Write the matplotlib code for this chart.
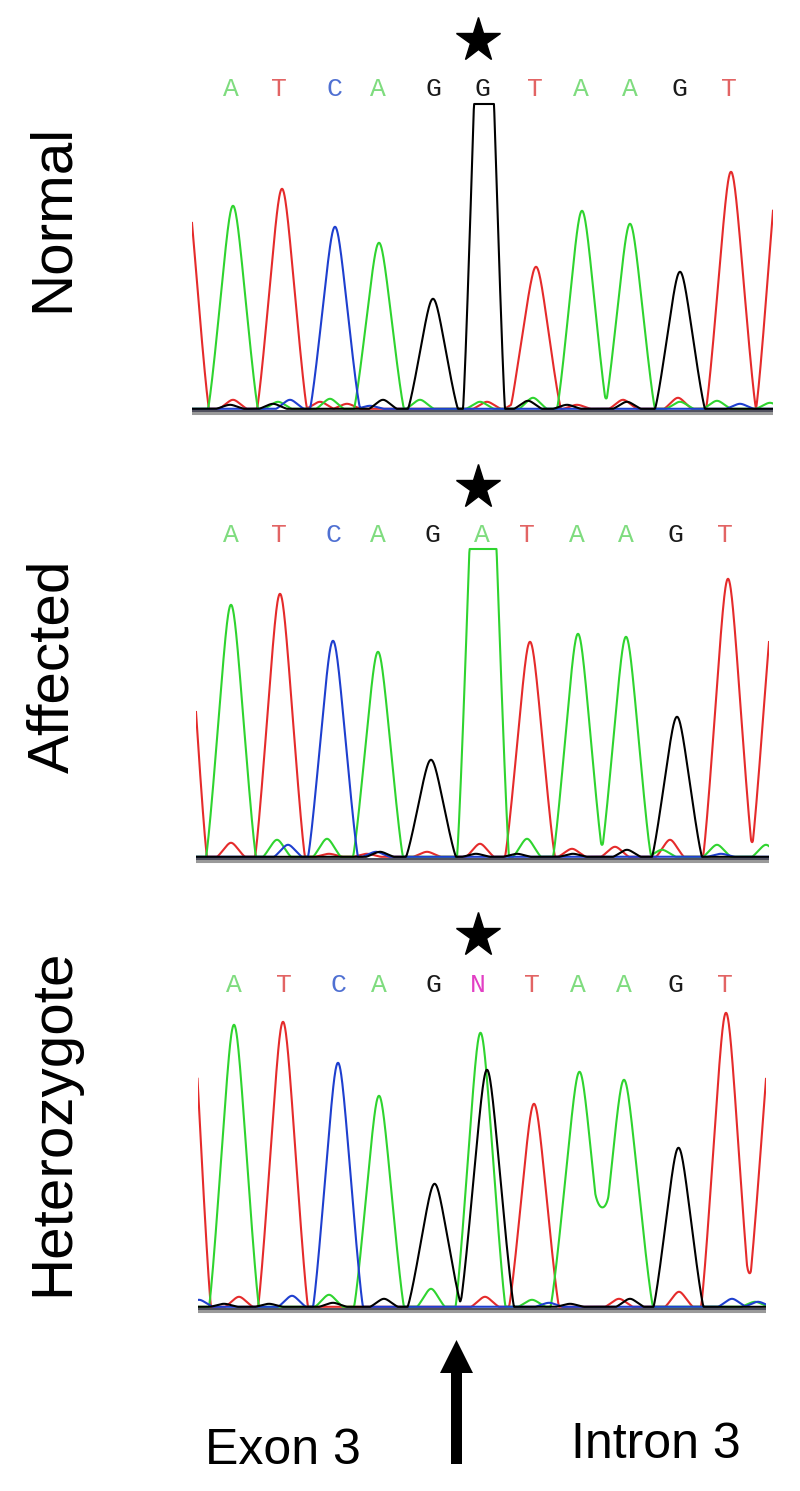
import numpy as np
import matplotlib.pyplot as plt

plt.rcParams['font.family'] = ['Liberation Sans', 'DejaVu Sans']

W, H = 800, 1491  # output size in pixels (dpi 100)

# trace / base-call colours
dye_colors = {'A': '#2fd42f', 'C': '#1e3fcf', 'G': '#000000', 'T': '#e52b2b'}
call_colors = {'A': '#7fdc7f', 'C': '#4f70d2', 'G': '#1a1a1a', 'T': '#e26464', 'N': '#e23fc4'}
draw_order = ['T', 'A', 'C', 'G']

#region Data - Normal
normal_calls = "ATCAGGTAAGT"
normal_call_x = [231, 279, 334, 378, 433, 482, 535, 581, 630, 679, 729]
normal_pk_x = [184, 233, 282, 335, 379, 433, 484, 536, 582, 630, 680, 731, 781]
normal_pk_h = [244, 203, 220, 182, 166, 110, 520, 142, 198, 185, 137, 237, 260]
normal_pk_w = [25, 25, 25, 25, 25, 25, 21, 25, 25, 25, 25, 25, 25]
normal_pk_dye = "TATCAGGTAAGTT"
normal_bump_x = [230, 233, 273, 278, 290, 320, 330, 347, 370, 383, 420, 480, 487,
                 518, 528, 533, 567, 577, 623, 627, 678, 680, 717, 740, 770]
normal_bump_h = [4, 9, 5, 7, 9, 7, 10, 5, 3, 9, 9, 7, 7,
                 7, 8, 11, 4, 4, 9, 7, 11, 7, 8, 5, 6]
normal_bump_dye = "GTGACTATCGAATTGAGTTGTAACA"
#endregion

#region Data - Affected
affected_calls = "ATCAGATAAGT"
affected_call_x = [231, 279, 333, 378, 432, 482, 527, 577, 626, 675, 725]
affected_pk_x = [182, 231, 280, 333, 378, 431, 483, 530, 578, 626, 677, 728, 776]
affected_pk_h = [309, 252, 263, 216, 205, 97, 600, 215, 223, 220, 140, 278, 266]
affected_pk_w = [25, 25, 25, 25, 25, 25, 26, 25, 25, 25, 25, 25, 25]
affected_pk_dye = "TATCAGATAAGTT"
affected_bump_x = [231, 277, 288, 327, 329, 367, 376, 380, 427, 476, 480,
                   517, 527, 572, 573, 615, 627, 662, 670, 717, 721, 766]
affected_bump_h = [14, 17, 12, 18, 3, 3, 5, 5, 5, 3, 13,
                   3, 18, 8, 3, 10, 7, 7, 17, 12, 3, 12]
affected_bump_dye = "TACATTCGTGTGATGTGATACA"
#endregion

#region Data - Heterozygote
het_calls = "ATCAGNTAAGT"
het_call_x = [234, 284, 338, 379, 433, 478, 532, 578, 624, 675, 725]
het_pk_x = [186, 234, 283, 338, 379, 434.6, 480.5, 487, 534, 579.5, 624, 678.5, 726, 777]
het_pk_h = [385, 282, 285, 244, 211, 123, 274, 237, 203, 235, 227, 159, 294, 330]
het_pk_w = [25, 25, 25, 25, 25, 27, 25, 27, 25, 29, 29, 25, 25, 30]
het_pk_dye = "TATCAGAGTAAGTT"
het_bump_x = [199, 224, 239, 269, 292, 329, 333, 384, 431, 485, 532, 549,
              570, 619, 630, 679, 732, 755, 758]
het_bump_h = [7, 3, 10, 3, 11, 12, 4, 8, 18, 10, 7, 4,
              3, 8, 8, 15, 8, 5, 5]
het_bump_dye = "CGTGCAGGATACGTGTCAC"
#endregion

# panel geometry in output pixels: left, right, baseline row, call row, star row
panel_names = ['Normal', 'Affected', 'Heterozygote']
panel_x0 = [192, 196, 197.5]
panel_x1 = [773, 769, 766]
panel_base = [410, 858, 1308]
panel_call_y = [96, 542, 992]
panel_star_y = [40, 487, 935]
panel_star_x = [478, 478, 478]
panel_clip = [306, 309, None]
label_y = [218, 666, 1122]

panels = [
    (normal_calls, normal_call_x, normal_pk_x, normal_pk_h, normal_pk_w, normal_pk_dye,
     normal_bump_x, normal_bump_h, normal_bump_dye),
    (affected_calls, affected_call_x, affected_pk_x, affected_pk_h, affected_pk_w, affected_pk_dye,
     affected_bump_x, affected_bump_h, affected_bump_dye),
    (het_calls, het_call_x, het_pk_x, het_pk_h, het_pk_w, het_pk_dye,
     het_bump_x, het_bump_h, het_bump_dye),
]


def peak_shape(x, c, h, w, r=6.0):
    # chromatogram peak: straight flanks meeting in a rounded tip, zero beyond +-w
    d = np.sqrt((x - c) ** 2 + r ** 2) - r
    t = np.clip(1 - d / (np.sqrt(w ** 2 + r ** 2) - r), 0, None)
    return h * t ** 1.2


fig = plt.figure(figsize=(W / 100, H / 100), dpi=100)

for i, (calls, call_x, pk_x, pk_h, pk_w, pk_dye, b_x, b_h, b_dye) in enumerate(panels):
    x0, x1, base = panel_x0[i], panel_x1[i], panel_base[i]
    lo, hi = -6, 405
    ax = fig.add_axes([x0 / W, 1 - (base - lo) / H, (x1 - x0) / W, (hi - lo) / H])
    ax.set_xlim(x0, x1)
    ax.set_ylim(lo, hi)
    ax.axis('off')

    xs = np.linspace(x0, x1, 1500)
    # baseline strip
    ax.axhline(-2.5, color='#9a9a9a', lw=2.2, zorder=1)
    ax.axhline(-0.5, color='#303040', lw=1.2, zorder=1)

    for dye in draw_order:
        y = np.full_like(xs, 1.2)
        for c, h, w, d in zip(pk_x, pk_h, pk_w, pk_dye):
            if d == dye:
                y += peak_shape(xs, c, h, w)
        for c, h, d in zip(b_x, b_h, b_dye):
            if d == dye:
                y += peak_shape(xs, c, h, 14, r=4)
        if panel_clip[i] is not None:
            y = np.minimum(y, panel_clip[i])
        ax.plot(xs, y, color=dye_colors[dye], lw=1.5, zorder=2, solid_joinstyle='round')

    # base calls
    for b, cx in zip(calls, call_x):
        ax.text(cx, base - panel_call_y[i], b, color=call_colors[b], fontsize=19,
                family=['Liberation Mono', 'DejaVu Sans Mono'], ha='center', va='baseline',
                clip_on=False)
    # star above the variant position
    ax.plot([panel_star_x[i]], [base - panel_star_y[i]], marker='*', markersize=33,
            color='black', clip_on=False)

# overlay in pixel coordinates for labels and the arrow
ov = fig.add_axes([0, 0, 1, 1], facecolor='none')
ov.set_xlim(0, W)
ov.set_ylim(H, 0)
ov.axis('off')

for name, ly in zip(panel_names, label_y):
    ov.text(68, ly, name, rotation=90, rotation_mode='anchor', ha='center', va='baseline',
            fontsize=42, color='black')

ov.arrow(456.5, 1464, 0, -124, width=11, head_width=33, head_length=33,
         length_includes_head=True, color='black', lw=0)
ov.text(205, 1464, 'Exon 3', fontsize=36, ha='left', va='baseline')
ov.text(571, 1458, 'Intron 3', fontsize=36, ha='left', va='baseline')

fig.savefig('out.png', dpi=100, facecolor='white')
